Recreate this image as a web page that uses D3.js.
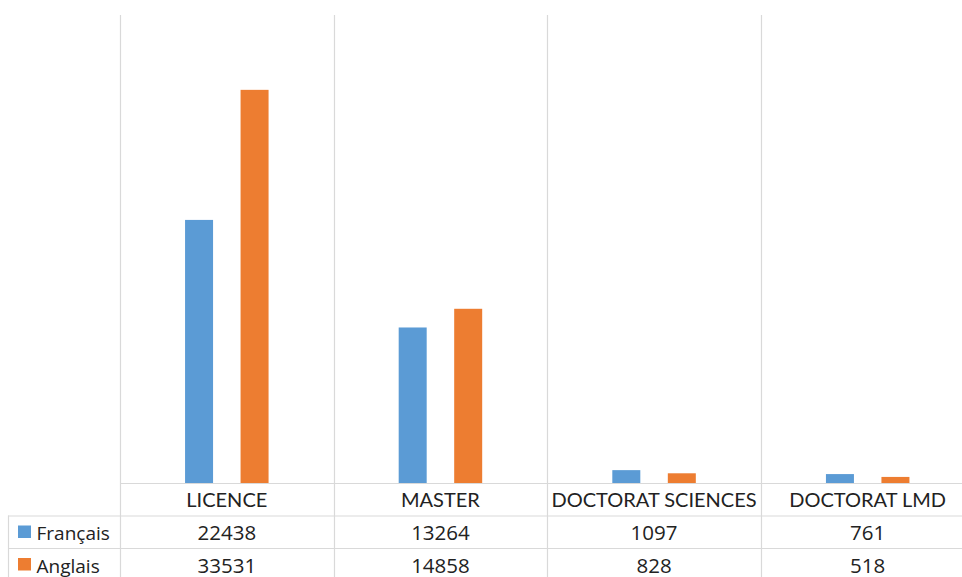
<!DOCTYPE html>
<html><head><meta charset="utf-8">
<script src="https://cdn.jsdelivr.net/npm/d3@7"></script>
<style>body{margin:0;background:#fff}svg{display:block}</style>
</head><body>
<script>
const categories = ["LICENCE","MASTER","DOCTORAT SCIENCES","DOCTORAT LMD"];
const seriesNames = ["Français","Anglais"];
const francais = [22438,13264,1097,761];
const anglais = [33531,14858,828,518];
const colors = ["#5B9BD5","#ED7D31"];
const series = [francais, anglais];

(function(){
const W=962,H=577;
const svg=d3.select("body").append("svg").attr("width",W).attr("height",H);
const pLeft=120, pRight=974.5, pTop=14, base=483, rowH=32.5;
const x=d3.scaleBand().domain(categories).range([pLeft,pRight]);
const y=d3.scaleLinear().domain([0,40000]).range([base,pTop]);
const grid="#D9D9D9", txt="#222222";
const font="Lato, 'Open Sans', sans-serif";
const numFont="'Open Sans', Lato, sans-serif";

// vertical lines
const vx=[pLeft, ...categories.map(c=>x(c)+x.bandwidth())];
svg.selectAll("line.v").data(vx).enter().append("line")
 .attr("x1",d=>Math.round(d)+0.5).attr("x2",d=>Math.round(d)+0.5)
 .attr("y1",pTop+1).attr("y2",H).attr("stroke",grid).attr("stroke-width",1.2);
// left table border
svg.append("line").attr("x1",8.5).attr("x2",8.5).attr("y1",base+rowH).attr("y2",H).attr("stroke",grid).attr("stroke-width",1.2);
// horizontal lines
svg.append("line").attr("x1",pLeft).attr("x2",pRight).attr("y1",base+0.5).attr("y2",base+0.5).attr("stroke",grid).attr("stroke-width",1.2);
[1,2].forEach(i=>svg.append("line").attr("x1",8).attr("x2",pRight).attr("y1",base+rowH*i+0.5).attr("y2",base+rowH*i+0.5).attr("stroke",grid).attr("stroke-width",1.2));

// bars
const barW=28;
series.forEach((vals,si)=>{
  const off = si===0 ? -27.75 : 27.75;
  svg.selectAll("rect.s"+si).data(vals).enter().append("rect")
   .attr("x",(d,i)=>x(categories[i])+x.bandwidth()/2+off-barW/2)
   .attr("y",d=>y(d)).attr("width",barW).attr("height",d=>base-y(d))
   .attr("fill",colors[si]);
});

// category labels
svg.selectAll("text.cat").data(categories).enter().append("text")
 .attr("x",d=>x(d)+x.bandwidth()/2).attr("y",base+24)
 .attr("text-anchor","middle").attr("font-family",font).attr("font-size",20).attr("fill",txt).text(d=>d);

// data rows
series.forEach((vals,si)=>{
  const ry=base+rowH*(si+1);
  svg.append("rect").attr("x",18).attr("y",ry+10).attr("width",13).attr("height",12.5).attr("fill",colors[si]);
  svg.append("text").attr("x",36.5).attr("y",ry+24.5).attr("font-family",numFont).attr("font-size",19).attr("fill",txt).text(seriesNames[si]);
  svg.selectAll("text.v"+si).data(vals).enter().append("text")
   .attr("x",(d,i)=>x(categories[i])+x.bandwidth()/2).attr("y",ry+24.5)
   .attr("text-anchor","middle").attr("font-family",numFont).attr("font-size",20.5).attr("fill",txt).text(d=>d);
});
})();
</script>
</body></html>
